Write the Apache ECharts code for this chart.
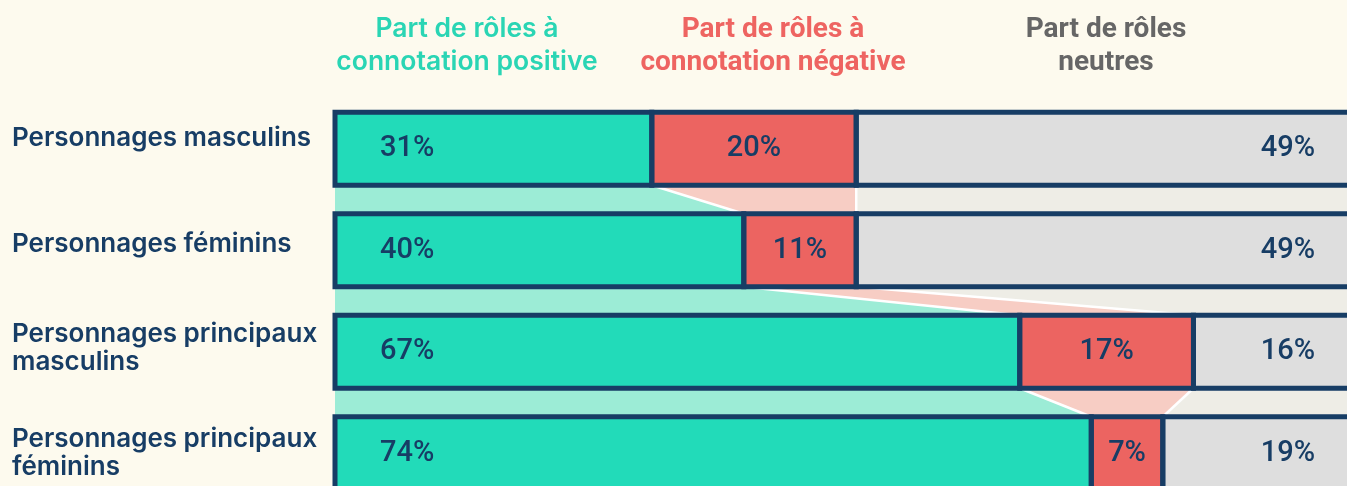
<!DOCTYPE html>
<html>
<head>
<meta charset="utf-8">
<script src="https://cdn.jsdelivr.net/npm/echarts@6/dist/echarts.min.js"></script>
<style>
  html, body { margin: 0; padding: 0; background: #fdfaee; }
  #chart { width: 1347px; height: 486px; }
</style>
</head>
<body>
<div id="chart"></div>
<script>
// categories and shares (%)
var categories = [
  'Personnages masculins',
  'Personnages féminins',
  'Personnages principaux\nmasculins',
  'Personnages principaux\nféminins'
];
var positive = [31, 40, 67, 74];
var negative = [20, 11, 17, 7];
var neutral = [49, 49, 16, 19];

var navy = '#173d65';
var barH = 73;

var chart = echarts.init(document.getElementById('chart'));

// bandes de liaison entre deux barres
function renderBand(params, api) {
  var i = api.value(1);
  if (i >= categories.length - 1) return;
  var c1 = api.coord([0, i]);
  var c2 = api.coord([0, i + 1]);
  var y1 = c1[1] + barH / 2;
  var y2 = c2[1] - barH / 2;
  var x0 = c1[0];
  var xEnd = api.coord([100, i])[0];
  var p1 = api.coord([positive[i], i])[0];
  var p2 = api.coord([positive[i + 1], i + 1])[0];
  var n1 = api.coord([positive[i] + negative[i], i])[0];
  var n2 = api.coord([positive[i + 1] + negative[i + 1], i + 1])[0];
  return {
    type: 'group',
    children: [
      { type: 'polygon', shape: { points: [[x0, y1], [p1, y1], [p2, y2], [x0, y2]] }, style: { fill: '#9cecd6' } },
      { type: 'polygon', shape: { points: [[p1, y1], [n1, y1], [n2, y2], [p2, y2]] }, style: { fill: '#f7cdc4' } },
      { type: 'polygon', shape: { points: [[n1, y1], [xEnd, y1], [xEnd, y2], [n2, y2]] }, style: { fill: '#eeede6' } },
      { type: 'line', shape: { x1: p1, y1: y1, x2: p2, y2: y2 }, style: { stroke: '#ffffff', lineWidth: 2.5 } },
      { type: 'line', shape: { x1: n1, y1: y1, x2: n2, y2: y2 }, style: { stroke: '#ffffff', lineWidth: 2.5 } }
    ]
  };
}

// contours des segments (trait centré sur les bords)
function renderOutline(params, api) {
  var i = api.value(1);
  var c = api.coord([0, i]);
  var top = c[1] - barH / 2;
  var edges = [0, positive[i], positive[i] + negative[i], positive[i] + negative[i] + neutral[i]];
  var children = [];
  for (var k = 0; k < 3; k++) {
    var xa = api.coord([edges[k], i])[0];
    var xb = api.coord([edges[k + 1], i])[0];
    children.push({
      type: 'rect',
      shape: { x: xa, y: top, width: xb - xa, height: barH },
      style: { fill: null, stroke: navy, lineWidth: 5 }
    });
  }
  return { type: 'group', children: children };
}

var barLabel = {
  show: true,
  color: navy,
  fontFamily: 'Roboto',
  fontWeight: 500,
  fontSize: 29,
  formatter: '{c}%'
};

var headerStyle = { fontSize: 28, fontWeight: 700, lineHeight: 33, fontFamily: 'Roboto' };

var option = {
  backgroundColor: '#fdfaee',
  animation: false,
  title: [
    { text: 'Part de rôles à\nconnotation positive', left: 462, top: 8, textAlign: 'center',
      textStyle: Object.assign({}, headerStyle, { color: '#2ad5b4', fontFamily: 'Inter', fontWeight: 600, fontSize: 26.5 }) },
    { text: 'Part de rôles à\nconnotation négative', left: 768, top: 8, textAlign: 'center',
      textStyle: Object.assign({ color: '#ee6461' }, headerStyle) },
    { text: 'Part de rôles\nneutres', left: 1101, top: 8, textAlign: 'center',
      textStyle: Object.assign({ color: '#666666' }, headerStyle) }
  ],
  grid: { left: 335, right: -10, top: 98, bottom: -18, outerBoundsMode: 'none' },
  xAxis: { type: 'value', min: 0, max: 100, show: false },
  yAxis: {
    type: 'category',
    inverse: true,
    data: categories,
    axisLine: { show: false },
    axisTick: { show: false },
    axisLabel: {
      margin: 323,
      align: 'left',
      color: navy,
      fontFamily: 'Inter',
      fontWeight: 600,
      fontSize: 26,
      lineHeight: 28,
      // ligne vide sous le libellé pour le remonter un peu
      formatter: function (value, index) {
        return index < 3 ? value + '\n{s' + index + '| }' : value;
      },
      rich: {
        s0: { lineHeight: 22, fontSize: 2 },
        s1: { lineHeight: 13, fontSize: 2 },
        s2: { lineHeight: 8, fontSize: 2 }
      }
    }
  },
  series: [
    {
      type: 'custom',
      renderItem: renderBand,
      data: categories.map(function (c, i) { return [0, i]; }),
      z: 1,
      silent: true
    },
    {
      name: 'positive', type: 'bar', stack: 'total', barWidth: barH, z: 2,
      data: positive,
      itemStyle: { color: '#22dbb9' },
      label: Object.assign({ position: 'insideLeft', distance: 45 }, barLabel)
    },
    {
      name: 'negative', type: 'bar', stack: 'total', barWidth: barH, z: 2,
      data: negative,
      itemStyle: { color: '#ec6461' },
      label: Object.assign({ position: 'inside' }, barLabel)
    },
    {
      name: 'neutral', type: 'bar', stack: 'total', barWidth: barH, z: 2,
      data: neutral,
      itemStyle: { color: '#dedede' },
      label: Object.assign({ position: 'insideRight', distance: 42 }, barLabel)
    },
    {
      type: 'custom',
      renderItem: renderOutline,
      data: categories.map(function (c, i) { return [0, i]; }),
      z: 3,
      silent: true
    }
  ]
};

chart.setOption(option);
</script>
</body>
</html>
